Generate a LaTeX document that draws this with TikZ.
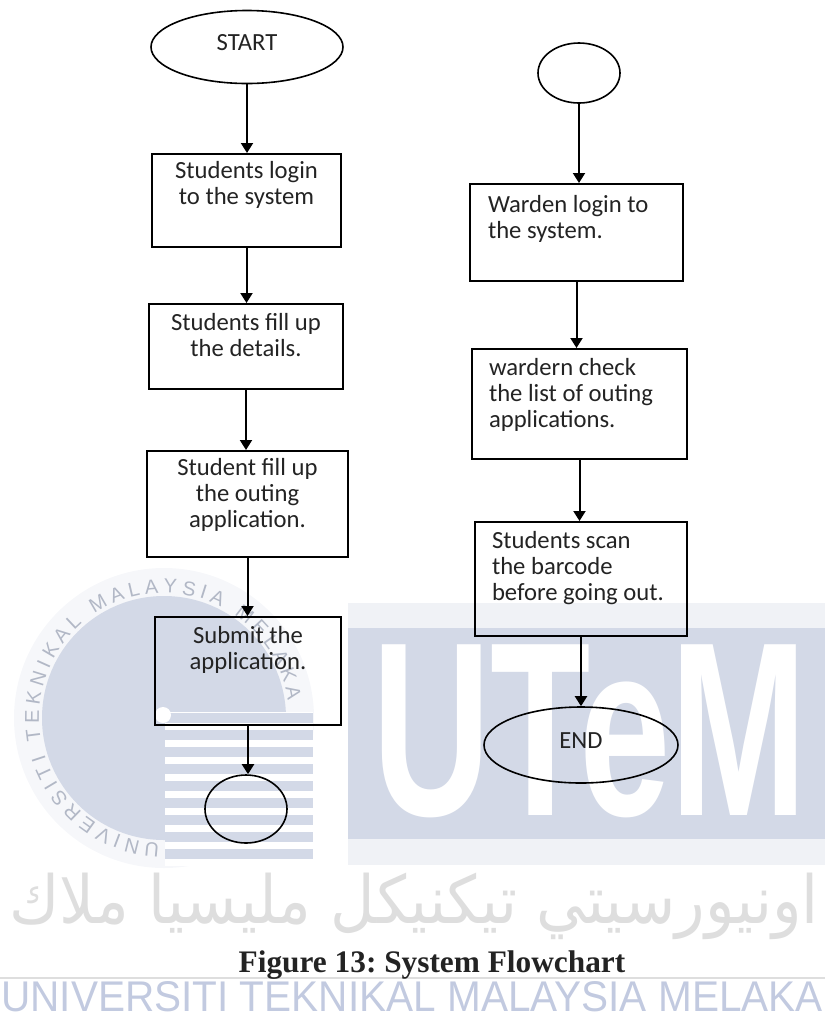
\documentclass[tikz,border=0pt]{standalone}
\usepackage{fontspec}
\usepackage{xcolor}
\usepackage{graphicx}
\usetikzlibrary{shapes.geometric,arrows.meta,decorations.text}
\setmainfont{Liberation Serif}
\newfontfamily\calfont{Carlito}
\newfontfamily\wmfont{Liberation Sans}
\newfontfamily\arabicfont[Script=Arabic]{DejaVu Sans}
\TeXXeTstate=1
\frenchspacing
\definecolor{wmblue}{RGB}{211,217,231}
\definecolor{wmpale}{RGB}{240,242,246}
\definecolor{wmring}{RGB}{178,184,198}
\definecolor{wmgrey}{RGB}{222,222,222}
\definecolor{wmtext}{RGB}{194,202,224}
\definecolor{inkgrey}{RGB}{35,35,35}
\tikzset{
	stepbox/.style={draw,line width=1.5pt,inner sep=0pt,text=inkgrey,font={\calfont\fontsize{18.5}{19.5}\selectfont}},
	terminal/.style={draw,ellipse,line width=1.2pt,inner sep=0pt,text depth=7pt,text=inkgrey,font={\calfont\fontsize{18.5}{19.5}\selectfont}},
	flow/.style={line width=1.5pt,-{Triangle[length=7.5pt,width=9pt]}}
}
\begin{document}
\begin{tikzpicture}[x=0.75pt,y=-0.75pt]
	\useasboundingbox (0,0) rectangle (825,1026);
	% watermark
	\fill[wmpale!60] (164,718) circle[radius=150];
	\fill[wmblue] (164,718) circle[radius=122];
	\path[decorate,decoration={text along path,text={|\wmfont\fontsize{15}{15}\selectfont|UNIVERSITI TEKNIKAL MALAYSIA MELAKA},text align={fit to path},text color=wmring}]
		(164,718) ++(-268:125) arc[start angle=-268,end angle=-8,radius=125];
	\fill[white] (165,712) rectangle (313,866);
	\foreach \k in {0,...,8}
		\fill[wmblue] (165,713+17*\k) rectangle (313,723+17*\k);
	\fill[white] (163,715) circle[radius=8];
	\fill[wmpale] (348,603) rectangle (825,865);
	\fill[wmblue] (348,628) rectangle (825,839);
	\node[text=white,inner sep=0pt,anchor=south west] (utem) at (372,818) {\resizebox{326pt}{128pt}{\wmfont\bfseries UTeM}};
	\node[text=wmgrey,inner sep=0pt,anchor=north] (jawi) at (414,873) {\resizebox*{607pt}{50pt}{\arabicfont\beginR اونيورسيتي تيكنيكل مليسيا ملاك\endR}};
	\draw[wmgrey,line width=0.8pt] (0,978) -- (825,978);
	\node[text=wmtext,inner sep=0pt,anchor=south] (uni) at (412,1012) {\resizebox{616pt}{22.5pt}{\wmfont UNIVERSITI TEKNIKAL MALAYSIA MELAKA}};
	% student column
	\node[terminal,minimum width=144pt,minimum height=54.75pt] (start) at (247,47) {START};
	\node[stepbox] (login) at (246.5,200.5)
	{
		\begin{minipage}[c][69.75pt][t]{141.75pt}
			\centering
			{\rule{0pt}{18.5pt}}Students login\\to the system
		\end{minipage}
	};
	\node[stepbox] (details) at (246,346.5)
	{
		\begin{minipage}[c][63.75pt][t]{145.5pt}
			\centering
			{\rule{0pt}{20pt}}Students fill up\\the details.
		\end{minipage}
	};
	\node[stepbox] (form) at (247.5,504)
	{
		\begin{minipage}[c][79.5pt][t]{150.75pt}
			\centering
			{\rule{0pt}{18.5pt}}Student fill up\\the outing\\application.
		\end{minipage}
	};
	\node[stepbox] (submit) at (248,671)
	{
		\begin{minipage}[c][81pt][t]{139.5pt}
			\centering
			{\rule{0pt}{20pt}}Submit the\\application.
		\end{minipage}
	};
	\node[terminal,minimum width=61.5pt,minimum height=51pt] (link) at (246,809) {};
	% warden column
	\node[terminal,minimum width=61.5pt,minimum height=45pt] (wstart) at (579,73) {};
	\node[stepbox] (wlogin) at (576.5,232.5)
	{
		\begin{minipage}[c][72.75pt][t]{159.75pt}
			\raggedright\leftskip=13.5pt
			{\rule{0pt}{21.5pt}}Warden login to\\the system.
		\end{minipage}
	};
	\node[stepbox] (wcheck) at (579.5,404)
	{
		\begin{minipage}[c][82.5pt][t]{161.25pt}
			\raggedright\leftskip=12.75pt
			{\rule{0pt}{20pt}}wardern check\\the list of outing\\applications.
		\end{minipage}
	};
	\node[stepbox] (scan) at (581,579)
	{
		\begin{minipage}[c][85.5pt][t]{159pt}
			\raggedright\leftskip=12.75pt
			{\rule{0pt}{20pt}}Students scan\\the barcode\\before going out.
		\end{minipage}
	};
	\node[terminal,minimum width=145.5pt,minimum height=57pt] (end) at (581,745) {END};
	\draw[flow] (start) -- (start |- login.north);
	\draw[flow] (login) -- (login |- details.north);
	\draw[flow] (details) -- (details |- form.north);
	\draw[flow] (form) -- (form |- submit.north);
	\draw[flow] (submit) -- (submit |- link.north);
	\draw[flow] (wstart) -- (wstart |- wlogin.north);
	\draw[flow] (wlogin) -- (wlogin |- wcheck.north);
	\draw[flow] (wcheck) -- (wcheck |- scan.north);
	\draw[flow] (scan) -- (scan |- end.north);
	\node[anchor=base,text=inkgrey,font={\bfseries\fontsize{23.5}{27}\selectfont}] (caption) at (432,972) {Figure 13: System Flowchart};
\end{tikzpicture}
\end{document}
